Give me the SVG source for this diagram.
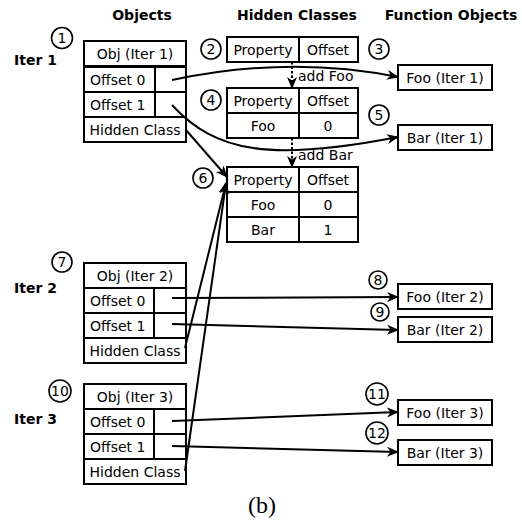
<svg xmlns="http://www.w3.org/2000/svg" width="522" height="523" viewBox="0 0 522 523">
<defs>
<style>
.box{fill:#fff;stroke:#000;stroke-width:2}
.ln{fill:none;stroke:#000;stroke-width:2}
.cir{fill:#fff;stroke:#000;stroke-width:1.6}
.t{font-family:"DejaVu Sans",sans-serif;font-size:14px;fill:#000}
.m{text-anchor:middle}
.h{font-family:"DejaVu Sans",sans-serif;font-size:14px;font-weight:bold;fill:#000}
.n{font-family:"DejaVu Sans",sans-serif;font-size:14px;fill:#000;text-anchor:middle}
.c{fill:none;stroke:#000;stroke-width:2;marker-end:url(#ah)}
.d{fill:none;stroke:#000;stroke-width:2;stroke-dasharray:2.5,2;marker-end:url(#ah)}
</style>
<marker id="ah" viewBox="0 0 12 10" refX="11" refY="5" markerWidth="12" markerHeight="10" markerUnits="userSpaceOnUse" orient="auto">
<path d="M0,0 L12,5 L0,10 L3.5,5 z" fill="#000"/>
</marker>
</defs>
<rect width="522" height="523" fill="#fff"/>

<g id="headers">
<text class="h m" x="142" y="20" text-anchor="middle">Objects</text>
<text class="h" x="297" y="20" text-anchor="middle">Hidden Classes</text>
<text class="h" x="451" y="20" text-anchor="middle">Function Objects</text>
<text class="h" x="14" y="65">Iter 1</text>
<text class="h" x="14" y="293">Iter 2</text>
<text class="h" x="14" y="424">Iter 3</text>
</g>

<g id="obj1">
<rect class="box" x="84" y="41" width="102" height="25"/>
<text class="t m" x="135" y="59">Obj (Iter 1)</text>
<rect class="box" x="84" y="67" width="102" height="75"/>
<line class="ln" x1="84" y1="92" x2="186" y2="92"/>
<line class="ln" x1="84" y1="117" x2="186" y2="117"/>
<line class="ln" x1="155" y1="67" x2="155" y2="117"/>
<text class="t" x="90" y="85">Offset 0</text>
<text class="t" x="90" y="110">Offset 1</text>
<text class="t m" x="135" y="135">Hidden Class</text>
</g>

<g id="obj2">
<rect class="box" x="84" y="263" width="102" height="25"/>
<text class="t m" x="135" y="281">Obj (Iter 2)</text>
<rect class="box" x="84" y="288" width="102" height="75"/>
<line class="ln" x1="84" y1="313" x2="186" y2="313"/>
<line class="ln" x1="84" y1="338" x2="186" y2="338"/>
<line class="ln" x1="154" y1="288" x2="154" y2="338"/>
<text class="t" x="90" y="306">Offset 0</text>
<text class="t" x="90" y="331">Offset 1</text>
<text class="t m" x="135" y="356">Hidden Class</text>
</g>

<g id="obj3">
<rect class="box" x="84" y="384" width="102" height="25"/>
<text class="t m" x="135" y="402">Obj (Iter 3)</text>
<rect class="box" x="84" y="409" width="102" height="75"/>
<line class="ln" x1="84" y1="434" x2="186" y2="434"/>
<line class="ln" x1="84" y1="459" x2="186" y2="459"/>
<line class="ln" x1="154" y1="409" x2="154" y2="459"/>
<text class="t" x="90" y="427">Offset 0</text>
<text class="t" x="90" y="452">Offset 1</text>
<text class="t m" x="135" y="477">Hidden Class</text>
</g>

<g id="hc2">
<rect class="box" x="227" y="37" width="131" height="25"/>
<line class="ln" x1="299" y1="37" x2="299" y2="62"/>
<text class="t m" x="263" y="55">Property</text>
<text class="t m" x="328" y="55">Offset</text>
</g>

<g id="hc4">
<rect class="box" x="227" y="88" width="131" height="50"/>
<line class="ln" x1="227" y1="113" x2="358" y2="113"/>
<line class="ln" x1="299" y1="88" x2="299" y2="138"/>
<text class="t m" x="263" y="106">Property</text>
<text class="t m" x="328" y="106">Offset</text>
<text class="t m" x="263" y="131">Foo</text>
<text class="t m" x="328" y="131">0</text>
</g>

<g id="hc6">
<rect class="box" x="227" y="167" width="131" height="75"/>
<line class="ln" x1="227" y1="192" x2="358" y2="192"/>
<line class="ln" x1="227" y1="217" x2="358" y2="217"/>
<line class="ln" x1="299" y1="167" x2="299" y2="242"/>
<text class="t m" x="263" y="185">Property</text>
<text class="t m" x="328" y="185">Offset</text>
<text class="t m" x="263" y="210">Foo</text>
<text class="t m" x="328" y="210">0</text>
<text class="t m" x="263" y="235">Bar</text>
<text class="t m" x="328" y="235">1</text>
</g>

<g id="foo1"><rect class="box" x="398" y="65" width="94" height="25"/><text class="t m" x="445" y="83">Foo (Iter 1)</text></g>
<g id="bar1"><rect class="box" x="398" y="125" width="94" height="25"/><text class="t m" x="445" y="143">Bar (Iter 1)</text></g>
<g id="foo2"><rect class="box" x="398" y="284" width="94" height="25"/><text class="t m" x="445" y="302">Foo (Iter 2)</text></g>
<g id="bar2"><rect class="box" x="398" y="317" width="94" height="25"/><text class="t m" x="445" y="335">Bar (Iter 2)</text></g>
<g id="foo3"><rect class="box" x="398" y="400" width="94" height="25"/><text class="t m" x="445" y="418">Foo (Iter 3)</text></g>
<g id="bar3"><rect class="box" x="398" y="440" width="94" height="25"/><text class="t m" x="445" y="458">Bar (Iter 3)</text></g>

<g id="connectors">
<path class="d" d="M292,62 L292,88"/>
<path class="d" d="M292,138 L292,167"/>
<path class="c" d="M172,80 Q290,55 398,77"/>
<path class="c" d="M172,105 C215,152 270,162 398,137"/>
<path class="c" d="M186,130 L227,177"/>
<path class="c" d="M185,348 L226,183"/>
<path class="c" d="M185,471 L226,183"/>
<path class="c" d="M172,298 L398,297"/>
<path class="c" d="M172,324 L398,330"/>
<path class="c" d="M172,421 L398,412"/>
<path class="c" d="M172,446 L398,452"/>
<text class="t" x="298" y="81">add Foo</text>
<text class="t" x="298" y="160">add Bar</text>
</g>

<g id="labels">
<circle class="cir" cx="62" cy="38" r="10.5"/><text class="n" x="62" y="43">1</text>
<circle class="cir" cx="211" cy="49" r="10"/><text class="n" x="211" y="54">2</text>
<circle class="cir" cx="379" cy="49" r="10"/><text class="n" x="379" y="54">3</text>
<circle class="cir" cx="211" cy="100" r="10"/><text class="n" x="211" y="105">4</text>
<circle class="cir" cx="379" cy="115" r="10"/><text class="n" x="379" y="120">5</text>
<circle class="cir" cx="203" cy="178" r="10"/><text class="n" x="203" y="183">6</text>
<circle class="cir" cx="62" cy="262" r="10"/><text class="n" x="62" y="267">7</text>
<circle class="cir" cx="378" cy="280" r="9"/><text class="n" x="378" y="285">8</text>
<circle class="cir" cx="380" cy="312" r="9"/><text class="n" x="380" y="317">9</text>
<circle class="cir" cx="60" cy="391" r="11"/><text class="n" x="60" y="396">10</text>
<circle class="cir" cx="377" cy="394" r="11"/><text class="n" x="377" y="399">11</text>
<circle class="cir" cx="377" cy="433" r="11"/><text class="n" x="377" y="438">12</text>
</g>

<text x="262" y="513" text-anchor="middle" font-family="'Liberation Serif',serif" font-size="24">(b)</text>
</svg>
